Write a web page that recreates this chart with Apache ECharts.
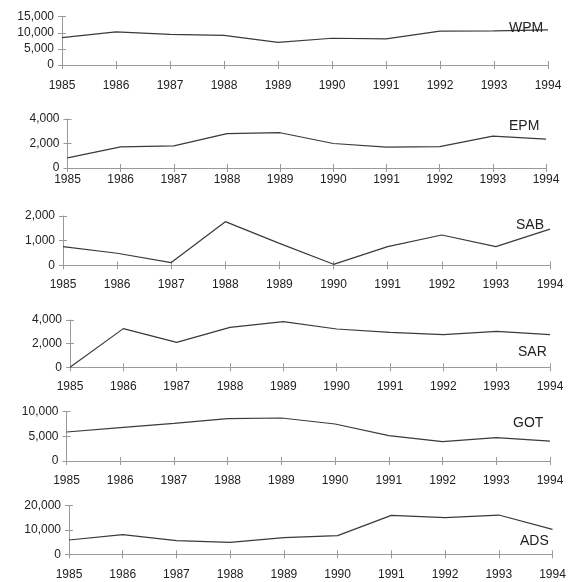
<!DOCTYPE html>
<html>
<head>
<meta charset="utf-8">
<script src="https://cdn.jsdelivr.net/npm/echarts@6/dist/echarts.min.js"></script>
<style>html,body{margin:0;padding:0;background:#fff;}#c{width:576px;height:582px;}</style>
</head>
<body>
<div id="c"></div>
<script>
var years = ['1985','1986','1987','1988','1989','1990','1991','1992','1993','1994'];
var names = ['WPM','EPM','SAB','SAR','GOT','ADS'];
var WPM = [8500, 10300, 9500, 9200, 7000, 8300, 8100, 10500, 10600, 10900];
var EPM = [820, 1730, 1810, 2800, 2880, 2000, 1700, 1750, 2600, 2360];
var SAB = [760, 490, 110, 1770, 890, 40, 760, 1230, 760, 1470];
var SAR = [0, 3270, 2110, 3380, 3860, 3240, 2960, 2760, 3040, 2760];
var GOT = [5880, 6760, 7640, 8580, 8720, 7500, 5140, 3920, 4730, 4050];
var ADS = [5890, 8080, 5620, 4930, 6850, 7670, 16030, 15070, 16160, 10270];
var yMax = [15000, 4000, 2000, 4000, 10000, 20000];
var yStep = [5000, 2000, 1000, 2000, 5000, 10000];

var seriesData = [WPM, EPM, SAB, SAR, GOT, ADS];

// layout (pixels)
var layout = [
  {left: 62,   right: 28,   top: 16.7,  height: 48.3, lm: 15, nx: 509, ny: 28.5},
  {left: 67.5, right: 30,   top: 119,   height: 49,   lm: 6,  nx: 509, ny: 126},
  {left: 63,   right: 26,   top: 216,   height: 49.3, lm: 13, nx: 516, ny: 225},
  {left: 70,   right: 26,   top: 320,   height: 47.3, lm: 13, nx: 518, ny: 352},
  {left: 66.5, right: 26,   top: 411.7, height: 49.3, lm: 14, nx: 513, ny: 423.5},
  {left: 69,   right: 23.5, top: 505.7, height: 48.6, lm: 14, nx: 520, ny: 541}
];

var FONT = 'Liberation Sans, Arial, sans-serif';
var axisColor = '#9a9a9a';
var textColor = '#222';

var grids = [], xAxes = [], yAxes = [], series = [], graphics = [];
for (var i = 0; i < 6; i++) {
  var L = layout[i];
  grids.push({left: L.left, right: L.right, top: L.top, height: L.height, containLabel: false});
  // main x axis (outer ticks + labels)
  xAxes.push({
    gridIndex: i, type: 'category', data: years, boundaryGap: false, position: 'bottom',
    axisLine: {show: true, lineStyle: {color: axisColor, width: 1}},
    axisTick: {show: true, inside: false, length: 4, lineStyle: {color: axisColor}},
    axisLabel: {show: true, margin: L.lm, color: textColor, fontSize: 12, fontFamily: FONT, interval: 0},
    splitLine: {show: false}
  });
  // inner ticks
  xAxes.push({
    gridIndex: i, type: 'category', data: years, boundaryGap: false, position: 'bottom', offset: 0,
    axisLine: {show: false},
    axisTick: {show: true, inside: true, length: 4, lineStyle: {color: axisColor}},
    axisLabel: {show: false}, splitLine: {show: false}
  });
  yAxes.push({
    gridIndex: i, type: 'value', min: 0, max: yMax[i], interval: yStep[i], position: 'left',
    axisLine: {show: true, lineStyle: {color: axisColor, width: 1}},
    axisTick: {show: true, inside: false, length: 4, lineStyle: {color: axisColor}},
    axisLabel: {show: true, margin: 8, color: textColor, fontSize: 12, fontFamily: FONT,
      formatter: function (v) { return Number(v).toLocaleString('en-US'); }},
    splitLine: {show: false}
  });
  yAxes.push({
    gridIndex: i, type: 'value', min: 0, max: yMax[i], interval: yStep[i], position: 'left', offset: 0,
    axisLine: {show: false},
    axisTick: {show: true, inside: true, length: 4, lineStyle: {color: axisColor}},
    axisLabel: {show: false}, splitLine: {show: false}
  });
  series.push({
    type: 'line', name: names[i], xAxisIndex: 2 * i, yAxisIndex: 2 * i,
    data: seriesData[i], symbol: 'none', smooth: false,
    lineStyle: {color: '#3a3a3a', width: 1.2}, z: 3, animation: false
  });
  graphics.push({
    type: 'text', x: L.nx, y: L.ny, z: 100,
    style: {text: names[i], font: '14px ' + FONT, fill: textColor, align: 'left', verticalAlign: 'middle'}
  });
}

var chart = echarts.init(document.getElementById('c'), null, {renderer: 'canvas'});
chart.setOption({
  animation: false,
  backgroundColor: '#fff',
  grid: grids,
  xAxis: xAxes,
  yAxis: yAxes,
  series: series,
  graphic: graphics
});
</script>
</body>
</html>
